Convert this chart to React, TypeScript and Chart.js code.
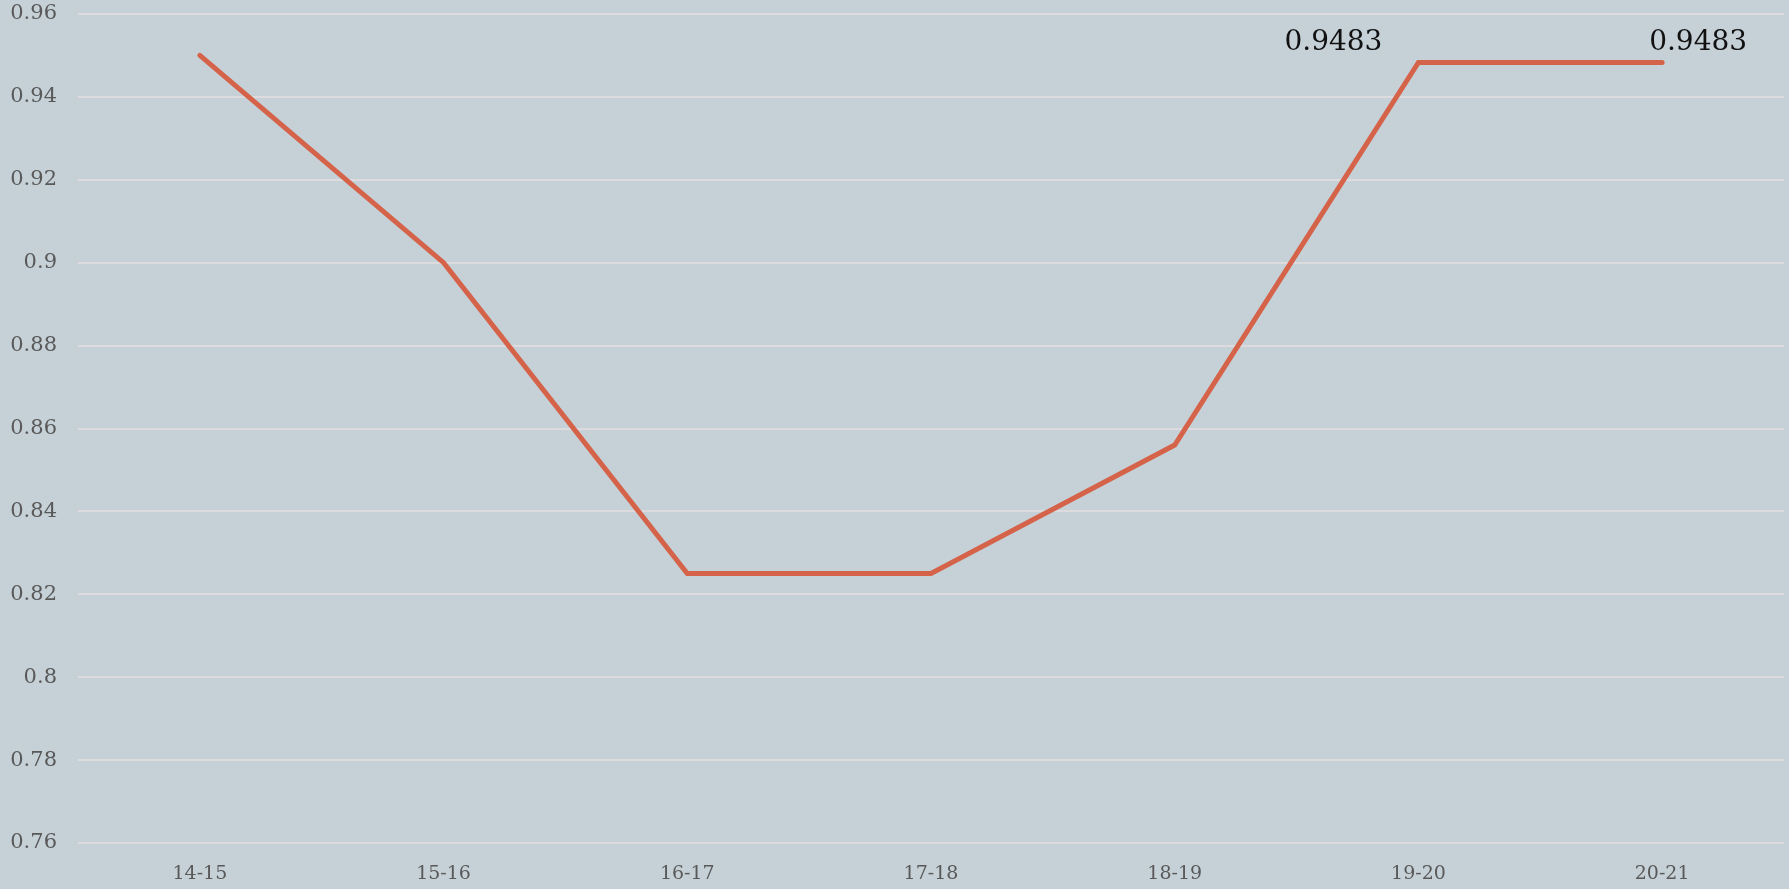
import React, { useEffect, useRef } from "react";
import { Chart, registerables } from "chart.js";

Chart.register(...registerables);

const categories = ["14-15", "15-16", "16-17", "17-18", "18-19", "19-20", "20-21"];
const values = [0.95, 0.9, 0.825, 0.825, 0.856, 0.9483, 0.9483];
const labeledIndices = [5, 6];
const labelOffsetsX = [-85, 36];
const yMin = 0.76;
const yMax = 0.96;
const yStep = 0.02;

const W = 1789;
const H = 889;
const PLOT_TOP = 14;

export default function App() {
  const ref = useRef<HTMLCanvasElement | null>(null);

  useEffect(() => {
    const canvas = ref.current;
    if (!canvas) return;
    const bgPlugin = {
      id: "bg",
      beforeDraw(chart: any) {
        const ctx = chart.ctx;
        ctx.save();
        ctx.fillStyle = "#C5D1D7";
        ctx.fillRect(0, 0, chart.width, chart.height);
        ctx.restore();
      },
    };
    const labelPlugin = {
      id: "valueLabels",
      afterDatasetsDraw(chart: any) {
        const ctx = chart.ctx;
        const meta = chart.getDatasetMeta(0);
        ctx.save();
        ctx.font = "28px 'DejaVu Serif'";
        ctx.fillStyle = "#111111";
        ctx.textAlign = "center";
        ctx.textBaseline = "alphabetic";
        labeledIndices.forEach((idx, k) => {
          const pt = meta.data[idx];
          if (!pt) return;
          ctx.fillText(String(values[idx]), pt.x + labelOffsetsX[k], pt.y - 12.5);
        });
        ctx.restore();
      },
    };
    const chart = new Chart(canvas, {
      type: "line",
      data: {
        labels: categories,
        datasets: [
          {
            data: values,
            borderColor: "#D5634A",
            borderWidth: 5,
            borderCapStyle: "round",
            borderJoinStyle: "miter",
            pointRadius: 0,
            pointHoverRadius: 0,
            tension: 0,
            fill: false,
          },
        ],
      },
      options: {
        responsive: false,
        animation: false,
        layout: { padding: { top: 0, right: 5, left: 0, bottom: 0 } },
        plugins: {
          legend: { display: false },
          tooltip: { enabled: false },
        },
        scales: {
          x: {
            offset: true,
            grid: { display: false, drawTicks: false },
            border: { display: false },
            ticks: {
              color: "#595959",
              font: { family: "'DejaVu Serif'", size: 19 },
              padding: 20,
              maxRotation: 0,
              autoSkip: false,
            },
            afterFit: (s: any) => {
              s.height = H - 843;
            },
          },
          y: {
            min: yMin,
            max: yMax,
            grid: { color: "#DDDBDD", lineWidth: 2, drawTicks: false },
            border: { display: false },
            ticks: {
              stepSize: yStep,
              color: "#595959",
              font: { family: "'DejaVu Serif'", size: 21 },
              padding: 21,
              callback: (v: any) => String(parseFloat(Number(v).toFixed(2))),
            },
            afterFit: (s: any) => {
              s.width = 78;
              s.paddingTop = PLOT_TOP;
            },
          },
        },
      },
      plugins: [bgPlugin, labelPlugin],
    });
    return () => chart.destroy();
  }, []);

  return (
    <div style={{ position: "absolute", left: 0, top: 0, width: W, height: H }}>
      <canvas ref={ref} width={W} height={H} style={{ display: "block" }} />
    </div>
  );
}
